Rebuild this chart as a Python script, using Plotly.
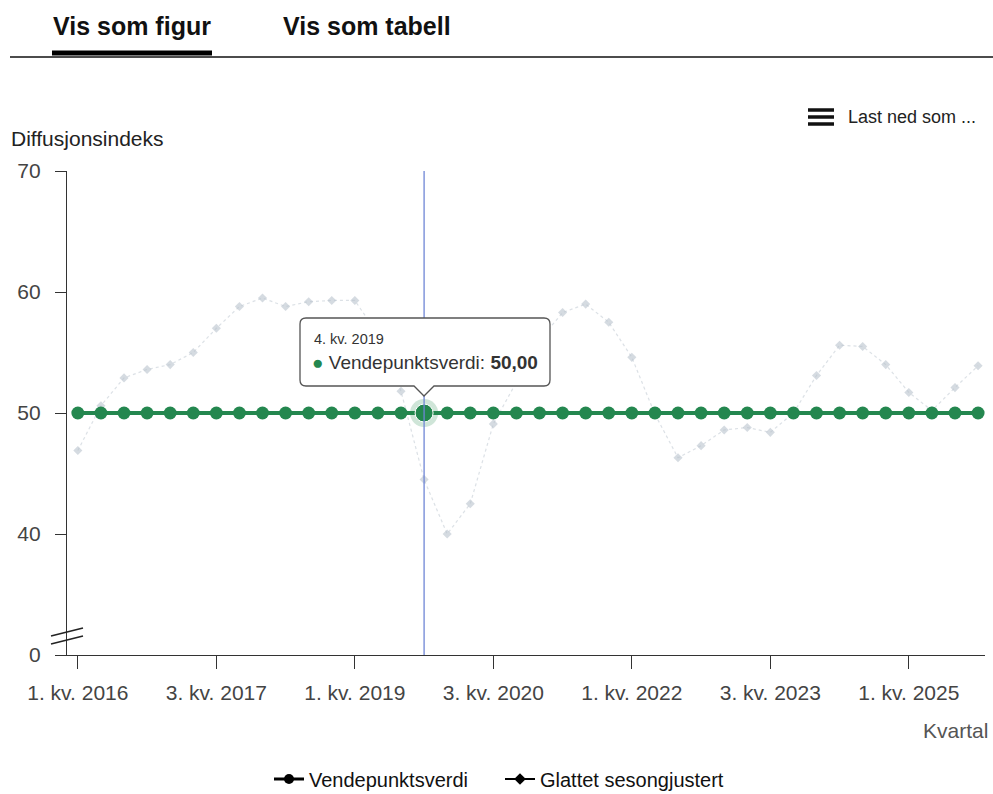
import plotly.graph_objects as go

# ---- data ----
quarters = [f"{q}. kv. {y}" for y in range(2016, 2026) for q in range(1, 5)]
vendepunkt = [50.0] * 40
glattet = [46.9, 50.6, 52.9, 53.6, 54.0, 55.0, 57.0, 58.8, 59.5, 58.8,
           59.2, 59.3, 59.3, 56.5, 51.8, 44.5, 40.0, 42.5, 49.1, 52.6,
           56.0, 58.3, 59.0, 57.5, 54.6, 49.9, 46.3, 47.3, 48.6, 48.8,
           48.4, 50.0, 53.1, 55.6, 55.5, 54.0, 51.7, 50.2, 52.1, 53.9]
y_tickvals = [30, 40, 50, 60, 70]
y_ticktext = ["0", "40", "50", "60", "70"]
x_tick_idx = [0, 6, 12, 18, 24, 30, 36]
hover_idx = 15

GREEN = "#24874f"
FONT = "Liberation Sans, Arial, sans-serif"

W, H = 993, 794
L, R, T, B = 67, 985, 171, 655


def px(xp):
    return (xp - L) / (R - L)


def py(yp):
    return (B - yp) / (B - T)


x = list(range(len(quarters)))
fig = go.Figure()

fig.add_trace(go.Scatter(
    x=x, y=glattet, mode="lines+markers", name="Glattet sesongjustert",
    line=dict(color="rgba(185,195,205,0.5)", width=1.2, dash="dot"),
    marker=dict(symbol="diamond", size=7, color="rgba(185,195,205,0.6)"),
    showlegend=False, hoverinfo="skip"))

fig.add_trace(go.Scatter(
    x=x, y=vendepunkt, mode="lines+markers", name="Vendepunktsverdi",
    line=dict(color=GREEN, width=4),
    marker=dict(symbol="circle", size=13, color=GREEN),
    showlegend=False, hoverinfo="skip"))

# highlighted hover point
fig.add_trace(go.Scatter(
    x=[x[hover_idx]], y=[vendepunkt[hover_idx]], mode="markers",
    marker=dict(size=28, color="rgba(36,135,79,0.22)"),
    showlegend=False, hoverinfo="skip"))
fig.add_trace(go.Scatter(
    x=[x[hover_idx]], y=[vendepunkt[hover_idx]], mode="markers",
    marker=dict(size=18, color=GREEN, line=dict(color="white", width=1)),
    showlegend=False, hoverinfo="skip"))

# legend-only traces (black symbols)
fig.add_trace(go.Scatter(
    x=[None], y=[None], mode="lines+markers", name="Vendepunktsverdi",
    line=dict(color="black", width=3), marker=dict(symbol="circle", size=10, color="black")))
fig.add_trace(go.Scatter(
    x=[None], y=[None], mode="lines+markers", name="Glattet sesongjustert",
    line=dict(color="black", width=2), marker=dict(symbol="diamond", size=9, color="black")))

shapes = []
# crosshair
shapes.append(dict(type="line", xref="x", yref="paper", x0=x[hover_idx], x1=x[hover_idx],
                   y0=0, y1=1, line=dict(color="#6f86d6", width=1.3), layer="above"))
# tooltip box with pointer
bx0, bx1, by0, by1, tip = 300, 550, 318, 386, 396
hx = 424
path = (f"M {px(bx0+6)},{py(by0)} L {px(bx1-6)},{py(by0)} Q {px(bx1)},{py(by0)} {px(bx1)},{py(by0+6)} "
        f"L {px(bx1)},{py(by1-6)} Q {px(bx1)},{py(by1)} {px(bx1-6)},{py(by1)} "
        f"L {px(hx+10)},{py(by1)} L {px(hx)},{py(tip)} L {px(hx-10)},{py(by1)} "
        f"L {px(bx0+6)},{py(by1)} Q {px(bx0)},{py(by1)} {px(bx0)},{py(by1-6)} "
        f"L {px(bx0)},{py(by0+6)} Q {px(bx0)},{py(by0)} {px(bx0+6)},{py(by0)} Z")
shapes.append(dict(type="path", xref="paper", yref="paper", path=path,
                   fillcolor="white", line=dict(color="#555555", width=1.3), layer="above"))
# axis break marks
for off in (0, 8):
    shapes.append(dict(type="line", xref="paper", yref="paper",
                       x0=px(51), y0=py(644 - off), x1=px(83), y1=py(636 - off),
                       line=dict(color="#222", width=1.6)))
# header lines
shapes.append(dict(type="line", xref="paper", yref="paper", x0=px(10), x1=px(993),
                   y0=py(57), y1=py(57), line=dict(color="#111", width=1.5)))
shapes.append(dict(type="line", xref="paper", yref="paper", x0=px(52), x1=px(212),
                   y0=py(53), y1=py(53), line=dict(color="#000", width=5)))
# hamburger icon
for yy in (110, 117, 124):
    shapes.append(dict(type="line", xref="paper", yref="paper", x0=px(808), x1=px(834),
                       y0=py(yy), y1=py(yy), line=dict(color="#111", width=3.5)))

annotations = [
    dict(text="<b>Vis som figur</b>", x=px(132), y=py(26), xref="paper", yref="paper",
         showarrow=False, font=dict(size=25, color="#111", family=FONT), xanchor="center", yanchor="middle"),
    dict(text="<b>Vis som tabell</b>", x=px(367), y=py(26), xref="paper", yref="paper",
         showarrow=False, font=dict(size=25, color="#111", family=FONT), xanchor="center", yanchor="middle"),
    dict(text="Last ned som ...", x=px(846), y=py(117), xref="paper", yref="paper",
         showarrow=False, font=dict(size=18, color="#222", family=FONT), xanchor="left", yanchor="middle"),
    dict(text="Diffusjonsindeks", x=px(9), y=py(138), xref="paper", yref="paper",
         showarrow=False, font=dict(size=21, color="#222", family=FONT), xanchor="left", yanchor="middle"),
    dict(text="Kvartal", x=px(990), y=py(730), xref="paper", yref="paper",
         showarrow=False, font=dict(size=21, color="#555", family=FONT), xanchor="right", yanchor="middle"),
    dict(text=quarters[hover_idx], x=px(312), y=py(339), xref="paper", yref="paper",
         showarrow=False, font=dict(size=14.5, color="#333", family=FONT), xanchor="left", yanchor="middle"),
    dict(text=f"<span style='color:{GREEN}'>●</span> Vendepunktsverdi: <b>"
              + f"{vendepunkt[hover_idx]:.2f}".replace(".", ",") + "</b>",
         x=px(310), y=py(362), xref="paper", yref="paper",
         showarrow=False, font=dict(size=19, color="#333", family=FONT), xanchor="left", yanchor="middle"),
]

fig.update_layout(
    width=W, height=H,
    margin=dict(l=L, r=W - R, t=T, b=H - B, autoexpand=False),
    paper_bgcolor="white", plot_bgcolor="white",
    font=dict(family=FONT, size=20, color="#444"),
    xaxis=dict(range=[-0.47, 39.3], tickmode="array", tickvals=[x[i] for i in x_tick_idx],
               ticktext=[quarters[i] for i in x_tick_idx], showgrid=False, zeroline=False,
               showline=True, linecolor="#333", linewidth=1.2, ticks="outside", ticklen=13,
               tickcolor="#333", tickfont=dict(size=21, color="#444"), ticklabelstandoff=6,
               automargin=False),
    yaxis=dict(range=[30, 70], tickmode="array", tickvals=y_tickvals, ticktext=y_ticktext,
               showgrid=False, zeroline=False, showline=True, linecolor="#333", linewidth=1.2,
               ticks="outside", ticklen=11, tickcolor="#333", tickfont=dict(size=21, color="#444"),
               ticklabelstandoff=10, automargin=False),
    legend=dict(orientation="h", x=px(269), xanchor="left", y=py(779), yanchor="middle",
                font=dict(size=20, color="#111"), itemwidth=30,
                entrywidth=186, entrywidthmode="pixels"),
    shapes=shapes, annotations=annotations,
)

fig.write_html("out.html", config={"displayModeBar": False},
               post_script="document.body.style.margin='0';document.body.style.overflow='hidden';")
